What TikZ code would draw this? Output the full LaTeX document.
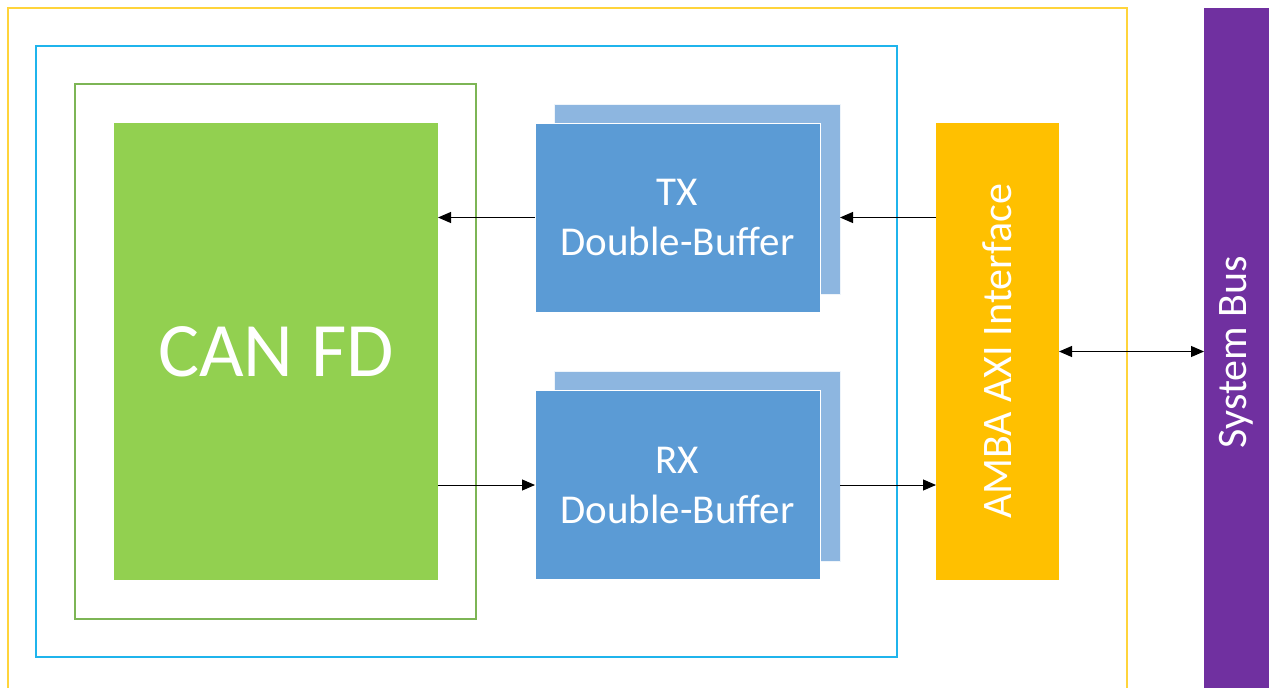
\documentclass[tikz,border=0pt]{standalone}
\usepackage{fontspec}
\setmainfont{Carlito}
\usetikzlibrary{arrows.meta}
\definecolor{cangreen}{HTML}{92D050}
\definecolor{buffront}{HTML}{5B9BD5}
\definecolor{bufback}{HTML}{8DB6E0}
\definecolor{ambaor}{HTML}{FFC000}
\definecolor{buspurple}{HTML}{7030A0}
\definecolor{frameyel}{HTML}{FFD43B}
\definecolor{frameblue}{HTML}{1FB4EC}
\definecolor{framegreen}{HTML}{7DB555}
\tikzset{
  blk/.style={inner sep=0pt, outer sep=0pt, text=white, align=center, font=\fontsize{41}{50}\selectfont},
  vtxt/.style={blk, rotate=90, font=\fontsize{42}{50}\selectfont},
  frontbuf/.style={blk, fill=buffront, draw=white, line width=1pt, minimum width=285pt, minimum height=189pt},
  backbuf/.style={inner sep=0pt, outer sep=0pt, fill=bufback, draw=white!85!bufback, line width=1pt, minimum width=286pt, minimum height=190pt},
  frm/.style={line width=1.4pt},
  arr/.style={line width=1pt, -{Triangle[length=13pt,width=11pt]}},
  darr/.style={line width=1pt, {Triangle[length=13pt,width=11pt]}-{Triangle[length=13pt,width=11pt]}}
}
\begin{document}
\begin{tikzpicture}[x=1pt,y=-1pt]
\useasboundingbox (0,0) rectangle (1269,688);
% outer yellow frame (open at the bottom)
\draw[frm, frameyel] (8,700) -- (8,8) -- (1127,8) -- (1127,700);
% blue frame
\draw[frm, frameblue] (36,46) rectangle (897,657);
% green frame
\draw[frm, framegreen] (75,84) rectangle (476,619);
% CAN FD
\node[blk, fill=cangreen, minimum width=324pt, minimum height=457pt, font=\fontsize{77}{90}\selectfont] (can) at (276,351.5) {CAN FD};
% TX buffer
\node[backbuf] (txback) at (697,199) {};
\node[frontbuf] (tx) at (677.5,217.5) {TX\\Double-Buffer};
% RX buffer
\node[backbuf] (rxback) at (697,466) {};
\node[frontbuf] (rx) at (677.5,485) {RX\\Double-Buffer};
% AMBA
\node[blk, fill=ambaor, minimum width=123pt, minimum height=457pt] (amba) at (997.5,351.5) {};
\node[vtxt] (ambatxt) at (amba.center) {AMBA AXI Interface};
% System bus
\node[blk, fill=buspurple, minimum width=65pt, minimum height=690pt] (bus) at (1236.5,353) {};
\node[vtxt] (bustxt) at (1236.5,352) {System Bus};
% connectors
\draw[arr] (tx.west) -- (tx.west -| can.east);
\draw[arr] (amba.west |- tx.west) -- (txback.east |- tx.west);
\draw[arr] (rx.west -| can.east) -- (rx.west);
\draw[arr] (rxback.east |- rx.west) -- (amba.west |- rx.west);
\draw[darr] (amba.east) -- (amba.east -| bus.west);
\end{tikzpicture}
\end{document}
